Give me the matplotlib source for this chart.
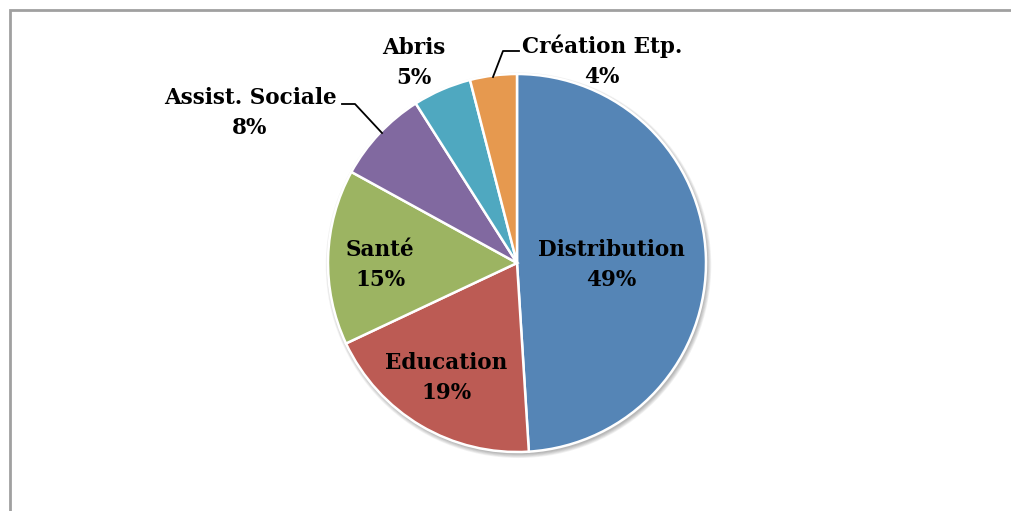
import matplotlib.pyplot as plt
from matplotlib.patches import Rectangle, Circle

categories = ['Distribution', 'Education', 'Santé', 'Assist. Sociale', 'Abris', 'Création Etp.']
shares = [49, 19, 15, 8, 5, 4]
colors = ['#5585B6', '#BC5B54', '#9CB462', '#8169A0', '#4FA8C0', '#E6994F']

W, H = 1011, 511
cx, cy, R = 517, 263, 189  # pixel geometry of the pie

fig = plt.figure(figsize=(W / 100, H / 100), dpi=100)
ax = fig.add_axes([0, 0, 1, 1])

# soft shadow under the pie
for k in range(6):
    ax.add_patch(Circle((0.008, -0.012), 1.0 + 0.004 * k, color='black',
                        alpha=0.05, linewidth=0, zorder=0))

ax.pie(shares, colors=colors, startangle=90, counterclock=False, radius=1,
       wedgeprops=dict(edgecolor='white', linewidth=1.8, zorder=2))
ax.set_xlim(-cx / R, (W - cx) / R)
ax.set_ylim(-(H - cy) / R, cy / R)
ax.set_aspect('equal')
ax.axis('off')

# chart frame (runs off the right/bottom of the image)
fig.patches.append(Rectangle((10 / W, -0.1), 1.2, 1 - 10 / H + 0.1, transform=fig.transFigure,
                             fill=False, edgecolor='#a0a0a0', linewidth=2))


def px(x, y):
    return (x - cx) / R, (cy - y) / R


label_px = [(611, 265), (446, 378), (380, 265), (250, 113), (414, 63), (602, 61)]
font = dict(family='DejaVu Serif', fontweight='bold', fontsize=15.5, color='black',
            ha='center', va='center', linespacing=1.5)
for name, val, (x, y) in zip(categories, shares, label_px):
    ax.text(*px(x, y), f'{name}\n{val}%', zorder=5, **font)

# leader lines
for pts in ([(342, 104), (355, 104), (382, 133)], [(519, 51), (503, 51), (493, 77)]):
    xs, ys = zip(*[px(*p) for p in pts])
    ax.plot(xs, ys, color='black', linewidth=1.3)

fig.savefig('out.png', dpi=100)
